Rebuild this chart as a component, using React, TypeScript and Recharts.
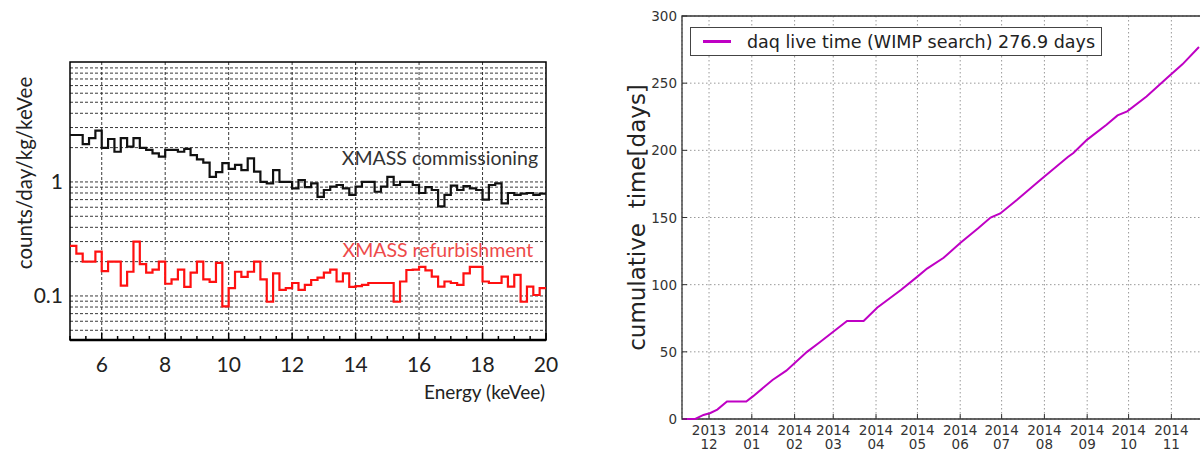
import React from 'react';
import {
  LineChart,
  Line,
  XAxis,
  YAxis,
  CartesianGrid,
  ReferenceArea,
  ReferenceDot,
  Legend,
  Label,
} from 'recharts';

// ---- left panel: background spectra (0.2 keVee bins from 5 keVee) ----
const energyStart = 5;
const binWidth = 0.2;

const commissioning = [
  2.58, 2.58, 2.15, 2.42, 2.82, 1.99, 2.38, 1.84, 2.42, 2.04,
  2.42, 1.99, 1.91, 1.78, 1.67, 1.91, 1.91, 1.84, 1.95, 1.72,
  1.58, 1.48, 1.11, 1.22, 1.46, 1.3, 1.41, 1.27, 1.61, 1.23,
  1.0, 0.97, 1.27, 1.0, 1.0, 0.88, 1.04, 0.9, 0.97, 0.74,
  0.85, 0.91, 0.94, 0.88, 0.77, 0.91, 1.0, 1.0, 0.82, 0.91,
  1.11, 0.94, 1.0, 1.0, 0.94, 0.8, 0.9, 0.85, 0.61, 0.77,
  0.93, 0.85, 0.92, 0.88, 0.85, 0.7, 0.94, 0.97, 0.65, 0.8,
  0.77, 0.79, 0.8, 0.77, 0.79,
];

const refurbishment = [
  0.275, 0.235, 0.2, 0.2, 0.245, 0.165, 0.2, 0.2, 0.123, 0.163,
  0.3, 0.19, 0.16, 0.17, 0.2, 0.128, 0.14, 0.17, 0.12, 0.16,
  0.2, 0.14, 0.133, 0.195, 0.081, 0.117, 0.163, 0.147, 0.163, 0.2,
  0.14, 0.089, 0.158, 0.113, 0.117, 0.13, 0.113, 0.125, 0.138, 0.145,
  0.16, 0.17, 0.134, 0.158, 0.12, 0.122, 0.125, 0.13, 0.13, 0.13,
  0.13, 0.089, 0.134, 0.169, 0.17, 0.18, 0.168, 0.148, 0.121, 0.134,
  0.13, 0.125, 0.158, 0.18, 0.18, 0.134, 0.13, 0.13, 0.148, 0.121,
  0.153, 0.089, 0.121, 0.102, 0.117,
];

const energyTicks = [
  5, 5.5, 6, 6.5, 7, 7.5, 8, 8.5, 9, 9.5, 10, 10.5, 11, 11.5, 12, 12.5,
  13, 13.5, 14, 14.5, 15, 15.5, 16, 16.5, 17, 17.5, 18, 18.5, 19, 19.5, 20,
];
const energyLabels = [6, 8, 10, 12, 14, 16, 18, 20];
const energyGrid = [6, 8, 10, 12, 14, 16, 18];
const rateGrid = [
  0.05, 0.06, 0.07, 0.08, 0.09, 0.1, 0.2, 0.3, 0.4, 0.5, 0.6, 0.7, 0.8, 0.9,
  1, 2, 3, 4, 5, 6, 7, 8, 9, 10,
];
const rateLabels = [0.1, 1];
const rateDomain = [0.0411, 11.27];

// ---- right panel: cumulative live time ----
const liveDates = [
  '2013-11-12', '2013-11-21', '2013-11-27', '2013-12-02', '2013-12-07',
  '2013-12-14', '2013-12-28', '2014-01-02', '2014-01-16', '2014-01-26',
  '2014-02-10', '2014-02-19', '2014-03-01', '2014-03-11', '2014-03-23',
  '2014-04-02', '2014-04-19', '2014-05-01', '2014-05-08', '2014-05-20',
  '2014-06-01', '2014-06-14', '2014-06-23', '2014-06-30', '2014-07-12',
  '2014-07-29', '2014-08-18', '2014-08-22', '2014-09-01', '2014-09-15',
  '2014-09-23', '2014-09-30', '2014-10-14', '2014-10-29', '2014-11-09',
  '2014-11-21',
];
const liveDays = [
  0, 0, 3, 4.5, 7, 13, 13, 17, 29, 36,
  50, 57, 65, 73, 73, 83, 96, 106, 112, 120,
  131, 142, 150, 153, 163, 178, 195, 198, 208, 219,
  226, 229, 240, 254, 264, 276.9,
];
const monthTicks = [
  '2013-12-01', '2014-01-01', '2014-02-01', '2014-03-01', '2014-04-01',
  '2014-05-01', '2014-06-01', '2014-07-01', '2014-08-01', '2014-09-01',
  '2014-10-01', '2014-11-01',
];
const daysTicks = [0, 50, 100, 150, 200, 250, 300];
const timeStart = '2013-11-11T10:00:00Z';
const timeEnd = '2014-11-23T22:00:00Z';

const toMs = (d: string) => new Date(d.length === 10 ? d + 'T00:00:00Z' : d).getTime();

const spectrumData = commissioning.map((c, i) => ({
  e: energyStart + binWidth * i,
  c,
  r: refurbishment[i],
}));
spectrumData.push({
  e: energyStart + binWidth * commissioning.length,
  c: commissioning[commissioning.length - 1],
  r: refurbishment[refurbishment.length - 1],
});

const liveData = liveDates.map((d, i) => ({ t: toMs(d), v: liveDays[i] }));
const monthTickMs = monthTicks.map(toMs);

const LEFT_FONT = 'Lato, "Open Sans", sans-serif';
const MPL_FONT = '"DejaVu Sans", sans-serif';
const MAGENTA = '#bf00c4';

function EnergyTick(props: any) {
  const { x, y, payload } = props;
  const v = payload.value;
  const major = energyLabels.includes(v);
  return (
    <g>
      <line x1={x} x2={x} y1={y} y2={y - (major ? 7 : 4)} stroke="#000" strokeWidth={1.5} />
      {major && (
        <text x={x} y={y + 32} textAnchor="middle" fontSize={21} fill="#222" fontFamily={LEFT_FONT}>
          {v}
        </text>
      )}
    </g>
  );
}

function RateTick(props: any) {
  const { x, y, payload } = props;
  if (!rateLabels.includes(payload.value)) return <g />;
  return (
    <text x={x - 7} y={y + 7} textAnchor="end" fontSize={21} fill="#222" fontFamily={LEFT_FONT}>
      {payload.value}
    </text>
  );
}

function MonthTick(props: any) {
  const { x, y, payload } = props;
  const d = new Date(payload.value);
  const mm = String(d.getUTCMonth() + 1).padStart(2, '0');
  return (
    <g>
      <line x1={x} x2={x} y1={y} y2={y - 5} stroke="#333" strokeWidth={1} />
      <text x={x} y={y + 16} textAnchor="middle" fontSize={13.5} fill="#333" fontFamily={MPL_FONT}>
        {d.getUTCFullYear()}
      </text>
      <text x={x} y={y + 30} textAnchor="middle" fontSize={13.5} fill="#333" fontFamily={MPL_FONT}>
        {mm}
      </text>
    </g>
  );
}

function TopMonthTick(props: any) {
  const { x, y } = props;
  return <line x1={x} x2={x} y1={y} y2={y + 5} stroke="#333" strokeWidth={1} />;
}

function DaysTick(props: any) {
  const { x, y, payload } = props;
  return (
    <g>
      <line x1={x} x2={x + 5} y1={y} y2={y} stroke="#333" strokeWidth={1} />
      <text x={x - 5} y={y + 5} textAnchor="end" fontSize={13.5} fill="#333" fontFamily={MPL_FONT}>
        {payload.value}
      </text>
    </g>
  );
}

function LiveLegend() {
  return (
    <div
      style={{
        border: '1.5px solid #444',
        background: '#fff',
        width: 412,
        height: 29,
        display: 'flex',
        alignItems: 'center',
        fontFamily: MPL_FONT,
        fontSize: 17.5,
        color: '#222',
        boxSizing: 'border-box',
        whiteSpace: 'nowrap',
      }}
    >
      <span style={{ display: 'inline-block', width: 28, height: 2.5, background: MAGENTA, marginLeft: 12, marginRight: 16 }} />
      daq live time (WIMP search) 276.9 days
    </div>
  );
}

function SpectrumChart() {
  return (
    <LineChart width={560} height={420} data={spectrumData} margin={{ top: 62, right: 14, bottom: 20, left: 0 }}>
      <CartesianGrid
        horizontalValues={rateGrid}
        verticalValues={energyGrid}
        stroke="#222"
        strokeWidth={0.9}
        strokeDasharray="3 2"
      />
      <XAxis
        dataKey="e"
        type="number"
        domain={[5, 20]}
        ticks={energyTicks}
        interval={0}
        height={60}
        tickSize={0}
        tickMargin={0}
        tick={<EnergyTick />}
        axisLine={{ stroke: '#000', strokeWidth: 2.5 }}
        tickLine={false}
      >
        <Label
          content={(p: any) => (
            <text
              x={p.viewBox.x + p.viewBox.width - 1}
              y={p.viewBox.y + 59}
              textAnchor="end"
              fontSize={19}
              fill="#222"
              fontFamily={LEFT_FONT}
            >
              Energy (keVee)
            </text>
          )}
        />
      </XAxis>
      <YAxis
        type="number"
        scale="log"
        domain={rateDomain}
        allowDataOverflow
        ticks={rateGrid}
        interval={0}
        width={70}
        tickSize={0}
        tickMargin={0}
        tick={<RateTick />}
        axisLine={false}
        tickLine={false}
      >
        <Label
          content={(p: any) => (
            <text
              x={24}
              y={p.viewBox.y + 111}
              transform={`rotate(-90, 24, ${p.viewBox.y + 111})`}
              textAnchor="middle"
              dominantBaseline="central"
              fontSize={20.5}
              fill="#222"
              fontFamily={LEFT_FONT}
            >
              counts/day/kg/keVee
            </text>
          )}
        />
      </YAxis>
      <ReferenceArea x1={5} x2={20} y1={rateDomain[0]} y2={rateDomain[1]} fill="none" stroke="#000" strokeWidth={1.5} />
      <Line type="stepAfter" dataKey="c" stroke="#111" strokeWidth={2.2} dot={false} isAnimationActive={false} />
      <Line type="stepAfter" dataKey="r" stroke="#ff1010" strokeWidth={2.2} dot={false} isAnimationActive={false} />
      <ReferenceDot
        x={19.75}
        y={1.62}
        r={0}
        label={{ value: 'XMASS commissioning', position: 'left', offset: 0, fill: '#333', fontSize: 19.5, fontFamily: LEFT_FONT }}
      />
      <ReferenceDot
        x={19.6}
        y={0.253}
        r={0}
        label={{ value: 'XMASS refurbishment', position: 'left', offset: 0, fill: '#ee4a4a', fontSize: 19.5, fontFamily: LEFT_FONT }}
      />
    </LineChart>
  );
}

function LiveTimeChart() {
  const domain = [toMs(timeStart), toMs(timeEnd)];
  return (
    <LineChart width={620} height={451} data={liveData} margin={{ top: 16, right: 17, bottom: 0, left: 0 }}>
      <CartesianGrid stroke="#999" strokeWidth={1} strokeDasharray="1.5 2.5" />
      <XAxis
        dataKey="t"
        type="number"
        domain={domain}
        allowDataOverflow
        ticks={monthTickMs}
        interval={0}
        height={32}
        tickSize={0}
        tickMargin={0}
        tick={<MonthTick />}
        axisLine={false}
        tickLine={false}
      />
      <XAxis
        xAxisId="top"
        orientation="top"
        dataKey="t"
        type="number"
        domain={domain}
        allowDataOverflow
        ticks={monthTickMs}
        interval={0}
        height={0}
        tickSize={0}
        tickMargin={0}
        tick={<TopMonthTick />}
        axisLine={false}
        tickLine={false}
      />
      <YAxis
        type="number"
        domain={[0, 300]}
        ticks={daysTicks}
        interval={0}
        width={82}
        tickSize={0}
        tickMargin={0}
        tick={<DaysTick />}
        axisLine={false}
        tickLine={false}
      >
        <Label
          content={(p: any) => (
            <text
              x={37}
              y={p.viewBox.y + p.viewBox.height / 2}
              transform={`rotate(-90, 37, ${p.viewBox.y + p.viewBox.height / 2})`}
              textAnchor="middle"
              dominantBaseline="central"
              fontSize={23}
              fill="#222"
              fontFamily={MPL_FONT}
              style={{ whiteSpace: 'pre' }}
            >
              {'cumulative  time[days]'}
            </text>
          )}
        />
      </YAxis>
      <ReferenceArea x1={domain[0]} x2={domain[1]} y1={0} y2={300} fill="none" stroke="#333" strokeWidth={1.3} />
      <Line type="linear" dataKey="v" stroke={MAGENTA} strokeWidth={2} dot={false} isAnimationActive={false} />
      <Legend
        verticalAlign="middle"
        align="center"
        content={<LiveLegend />}
        wrapperStyle={{ left: 90, top: 27, width: 412, height: 29 }}
      />
    </LineChart>
  );
}

export default function App() {
  return (
    <div
      style={{
        position: 'fixed',
        left: 0,
        top: 0,
        width: 1200,
        height: 451,
        overflow: 'hidden',
        background: '#fff',
      }}
    >
      <div style={{ position: 'absolute', left: 0, top: 0 }}>
        <SpectrumChart />
      </div>
      <div style={{ position: 'absolute', left: 600, top: 0 }}>
        <LiveTimeChart />
      </div>
    </div>
  );
}
